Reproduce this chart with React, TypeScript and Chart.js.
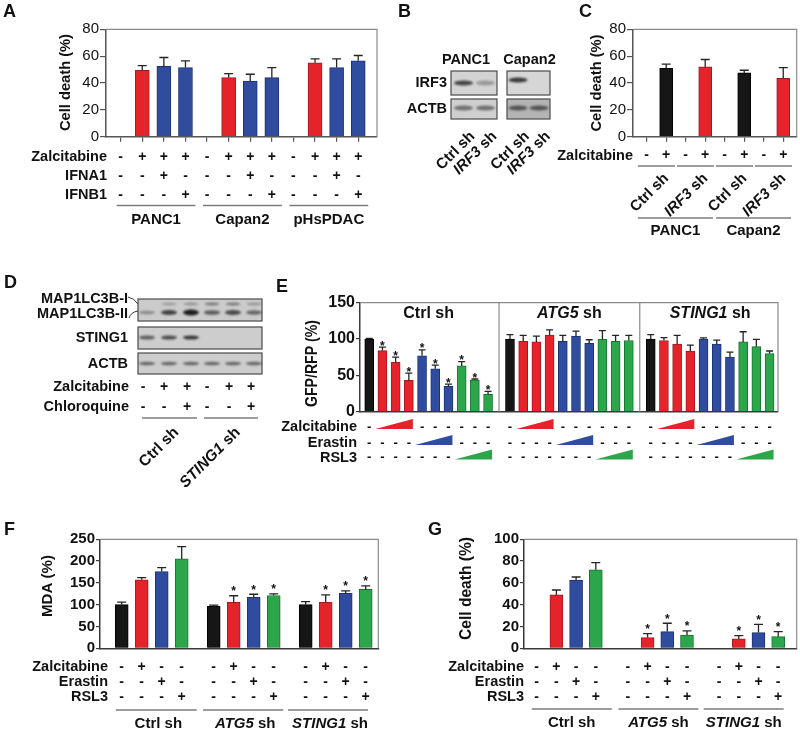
import React, { useEffect, useRef } from "react";
import { Chart, registerables } from "chart.js";

Chart.register(...registerables);

const FONT = '"Liberation Sans", Arial, Helvetica, sans-serif';
const PAGE_W = 800;
const PAGE_H = 731;
const INK = "#111111";
const LINE_GRAY = "#7c7c7c";

const FILL: Record<string, string> = { k: "#161616", r: "#e4232a", b: "#2f4c9e", g: "#2ba64b" };
const EDGE: Record<string, string> = { k: "#000000", r: "#a3191e", b: "#1c3272", g: "#17752f" };

// ================= Panel A =================
const A_SLOTS = [0, 1, 2, 3, 4, 5, 6, 7, 8, 9, 10, 11];
const A_POS = [1, 2, 3, 5, 6, 7, 9, 10, 11];
const A_VAL = [49.5, 52.5, 51.5, 44, 41.5, 44, 55, 51.5, 56.5];
const A_ERR = [3.5, 6.5, 5, 3, 5, 7.5, 3, 6.5, 4];
const A_COL = ["r", "b", "b", "r", "b", "b", "r", "b", "b"];
const A_ROW_LABELS = ["Zalcitabine", "IFNA1", "IFNB1"];
const A_ZAL = ["-", "+", "+", "+", "-", "+", "+", "+", "-", "+", "+", "+"];
const A_IFNA1 = ["-", "-", "+", "-", "-", "-", "+", "-", "-", "-", "+", "-"];
const A_IFNB1 = ["-", "-", "-", "+", "-", "-", "-", "+", "-", "-", "-", "+"];
const A_GROUPS = ["PANC1", "Capan2", "pHsPDAC"];
const A_Y_MAX = 80;
const A_Y_STEP = 20;

// ================= Panel B (blot) =================
const B_CELLS = ["PANC1", "Capan2"];
const B_LANE_LABELS = ["Ctrl sh", "IRF3 sh", "Ctrl sh", "IRF3 sh"];
const B_IRF3 = [0.75, 0.3, 0.8, 0];
const B_ACTB = [0.5, 0.5, 0.6, 0.6];

// ================= Panel C =================
const C_SLOTS = [0, 1, 2, 3, 4, 5, 6, 7];
const C_POS = [1, 3, 5, 7];
const C_VAL = [51, 52, 47.5, 43.5];
const C_ERR = [3, 5.5, 2, 8];
const C_COL = ["k", "r", "k", "r"];
const C_ZAL = ["-", "+", "-", "+", "-", "+", "-", "+"];
const C_PAIRS = ["Ctrl sh", "IRF3 sh", "Ctrl sh", "IRF3 sh"];
const C_GROUPS = ["PANC1", "Capan2"];
const C_Y_MAX = 80;
const C_Y_STEP = 20;

// ================= Panel D (blot) =================
const D_LC3_I = [0, 0.25, 0.3, 0.45, 0.45, 0.3];
const D_LC3_II = [0.35, 0.75, 0.95, 0.6, 0.7, 0.55];
const D_STING1 = [0.6, 0.7, 0.8, 0, 0, 0];
const D_ACTB = [0.55, 0.55, 0.55, 0.55, 0.55, 0.55];
const D_ZAL = ["-", "+", "+", "-", "+", "+"];
const D_CQ = ["-", "-", "+", "-", "-", "+"];
const D_GROUPS = ["Ctrl sh", "STING1 sh"];

// ================= Panel E =================
const E_GROUPS = ["Ctrl sh", "ATG5 sh", "STING1 sh"];
const E_COL_PATTERN = ["k", "r", "r", "r", "b", "b", "b", "g", "g", "g"];
const E_CTRL_VAL = [100, 84, 68, 43, 77, 59, 35, 63, 43.5, 24];
const E_CTRL_ERR = [1, 5, 7, 10, 8, 5, 3, 6, 1.5, 4];
const E_ATG5_VAL = [100, 97, 96, 105.5, 97, 104, 94, 99.5, 97, 98];
const E_ATG5_ERR = [6, 8, 8, 7, 8, 7, 5, 12, 8, 7];
const E_STING1_VAL = [100, 98, 93, 83.5, 100, 93, 75, 96, 89.5, 80];
const E_STING1_ERR = [6, 4, 12, 8, 1.5, 5.5, 7, 14, 10, 3.5];
const E_CTRL_STARS = [false, true, true, true, true, true, true, true, true, true];
const E_ROW_LABELS = ["Zalcitabine", "Erastin", "RSL3"];
const E_ZAL = ["-", "W", "W", "W", "-", "-", "-", "-", "-", "-"];
const E_ERA = ["-", "-", "-", "-", "W", "W", "W", "-", "-", "-"];
const E_RSL = ["-", "-", "-", "-", "-", "-", "-", "W", "W", "W"];
const E_Y_MAX = 150;
const E_Y_STEP = 50;

// ================= Panel F =================
const F_GROUPS = ["Ctrl sh", "ATG5 sh", "STING1 sh"];
const F_COL = ["k", "r", "b", "g", "k", "r", "b", "g", "k", "r", "b", "g"];
const F_VAL = [100, 157, 176, 205, 96, 105.5, 117, 121, 100, 105.5, 126, 135];
const F_ERR = [6, 5, 9, 28, 3, 15, 7, 4, 7, 17, 5.5, 8];
const F_STARS = [false, false, false, false, false, true, true, true, false, true, true, true];
const F_ROW_LABELS = ["Zalcitabine", "Erastin", "RSL3"];
const F_ZAL = ["-", "+", "-", "-"];
const F_ERA = ["-", "-", "+", "-"];
const F_RSL = ["-", "-", "-", "+"];
const F_Y_MAX = 250;
const F_Y_STEP = 50;

// ================= Panel G =================
const G_GROUPS = ["Ctrl sh", "ATG5 sh", "STING1 sh"];
const G_COL = ["r", "b", "g", "r", "b", "g", "r", "b", "g"];
const G_VAL = [49, 62.7, 72, 9.8, 15.3, 12.2, 8.6, 14.4, 10.7];
const G_ERR = [4.5, 2.7, 6.6, 3.7, 7.7, 3.8, 3, 7.6, 4.6];
const G_STARS = [false, false, false, true, true, true, true, true, true];
const G_ROW_LABELS = ["Zalcitabine", "Erastin", "RSL3"];
const G_ZAL = ["-", "+", "-", "-"];
const G_ERA = ["-", "-", "+", "-"];
const G_RSL = ["-", "-", "-", "+"];
const G_Y_MAX = 100;
const G_Y_STEP = 20;

// ---------------- helpers ----------------
type Ctx = CanvasRenderingContext2D;
type Part = [string, boolean];

function setFont(ctx: Ctx, size: number, weight = "bold", italic = false) {
  ctx.font = `${italic ? "italic " : ""}${weight} ${size}px ${FONT}`;
}
function text(ctx: Ctx, s: string, x: number, y: number, size: number, align: CanvasTextAlign = "center", weight = "bold") {
  setFont(ctx, size, weight, false);
  ctx.fillStyle = INK;
  ctx.textAlign = align;
  ctx.textBaseline = "middle";
  ctx.fillText(s, x, y);
}
function shParts(s: string): Part[] {
  const m = s.match(/^(.*) sh$/);
  if (m && m[1] !== "Ctrl") return [[m[1], true], [" sh", false]];
  return [[s, false]];
}
function mixed(ctx: Ctx, parts: Part[], x: number, y: number, size: number, align: "left" | "center" | "right") {
  const widths = parts.map(([s, it]) => {
    setFont(ctx, size, "bold", it);
    return ctx.measureText(s).width;
  });
  const total = widths.reduce((a, b) => a + b, 0);
  let cx = align === "left" ? x : align === "center" ? x - total / 2 : x - total;
  parts.forEach(([s, it], i) => {
    setFont(ctx, size, "bold", it);
    ctx.fillStyle = INK;
    ctx.textAlign = "left";
    ctx.textBaseline = "middle";
    ctx.fillText(s, cx, y);
    cx += widths[i];
  });
}
function rotated(ctx: Ctx, s: string, ax: number, ay: number, size: number) {
  ctx.save();
  ctx.translate(ax, ay);
  ctx.rotate(-Math.PI / 4);
  mixed(ctx, shParts(s), 0, 0, size, "right");
  ctx.restore();
}
function yTitle(ctx: Ctx, s: string, cx: number, cy: number, size: number, len: number) {
  ctx.save();
  ctx.translate(cx, cy);
  ctx.rotate(-Math.PI / 2);
  setFont(ctx, size, "bold");
  const w = ctx.measureText(s).width;
  ctx.scale(len / w, 1);
  ctx.fillStyle = INK;
  ctx.textAlign = "center";
  ctx.textBaseline = "middle";
  ctx.fillText(s, 0, 0);
  ctx.restore();
}
function hline(ctx: Ctx, x0: number, x1: number, y: number, color = LINE_GRAY, w = 1.5) {
  ctx.save();
  ctx.strokeStyle = color;
  ctx.lineWidth = w;
  ctx.beginPath();
  ctx.moveTo(x0, y);
  ctx.lineTo(x1, y);
  ctx.stroke();
  ctx.restore();
}

type Spec = {
  area: [number, number, number, number];
  xMin: number;
  xMax: number;
  slots: number[];
  slotTicks: boolean;
  yMax: number;
  yStep: number;
  tickSize: number;
  tickWeight: string;
  tickPad: number;
  tickLen: number;
  axisColor: string;
  barWidth: number;
  capWidth: number;
  pos: number[];
  val: number[];
  err: number[];
  col: string[];
  star?: boolean[];
  starDy: number;
  extras: (ctx: Ctx, x: (v: number) => number, area: any) => void;
};

function BarPanel({ spec }: { spec: Spec }) {
  const ref = useRef<HTMLCanvasElement>(null);
  useEffect(() => {
    const [l, t, r, b] = spec.area;
    const yW = 70;
    const xH = spec.slotTicks ? 6 : 0;
    const chart = new Chart(ref.current as HTMLCanvasElement, {
      type: "bar",
      data: {
        datasets: [
          {
            data: spec.pos.map((p, i) => ({ x: p, y: spec.val[i] })) as any,
            backgroundColor: spec.col.map((c) => FILL[c]),
            borderColor: spec.col.map((c) => EDGE[c]),
            borderWidth: 1,
            barThickness: spec.barWidth,
          },
        ],
      },
      options: {
        responsive: false,
        animation: false,
        events: [],
        layout: { padding: { left: l - yW, top: t, right: PAGE_W - r, bottom: PAGE_H - b - xH } },
        plugins: { legend: { display: false }, tooltip: { enabled: false }, title: { display: false } },
        scales: {
          x: {
            type: "linear",
            min: spec.xMin,
            max: spec.xMax,
            offset: false,
            afterBuildTicks: (s: any) => {
              s.ticks = spec.slots.map((v) => ({ value: v }));
            },
            afterFit: (s: any) => {
              s.height = xH;
            },
            grid: {
              display: spec.slotTicks,
              offset: false,
              drawOnChartArea: false,
              drawTicks: true,
              tickLength: 5,
              color: spec.axisColor,
              lineWidth: 1.2,
            },
            border: { display: true, color: spec.axisColor, width: 1.5 },
            ticks: { display: false },
          } as any,
          y: {
            min: 0,
            max: spec.yMax,
            afterFit: (s: any) => {
              s.width = yW;
            },
            ticks: {
              stepSize: spec.yStep,
              font: { family: FONT, size: spec.tickSize, weight: spec.tickWeight as any },
              color: INK,
              padding: spec.tickPad,
            },
            grid: { drawOnChartArea: false, drawTicks: true, tickLength: spec.tickLen, color: spec.axisColor, lineWidth: 1.2 },
            border: { color: spec.axisColor, width: 1.5 },
          },
        },
      },
      plugins: [
        {
          id: "decor",
          afterDatasetsDraw(c: any) {
            const ctx: Ctx = c.ctx;
            const xs = c.scales.x;
            const ys = c.scales.y;
            const a = c.chartArea;
            ctx.save();
            ctx.strokeStyle = "#8a8a8a";
            ctx.lineWidth = 1.2;
            ctx.beginPath();
            ctx.moveTo(a.left, a.top);
            ctx.lineTo(a.right, a.top);
            ctx.lineTo(a.right, a.bottom);
            ctx.stroke();
            spec.pos.forEach((p, i) => {
              const x = xs.getPixelForValue(p);
              const y0 = ys.getPixelForValue(spec.val[i]);
              const y1 = ys.getPixelForValue(spec.val[i] + spec.err[i]);
              ctx.strokeStyle = "#252525";
              ctx.lineWidth = 1.3;
              ctx.beginPath();
              ctx.moveTo(x, y0);
              ctx.lineTo(x, y1);
              ctx.moveTo(x - spec.capWidth / 2, y1);
              ctx.lineTo(x + spec.capWidth / 2, y1);
              ctx.stroke();
              if (spec.star && spec.star[i]) {
                setFont(ctx, 12, "bold");
                ctx.fillStyle = INK;
                ctx.textAlign = "center";
                ctx.textBaseline = "alphabetic";
                ctx.fillText("*", x, y1 + spec.starDy);
              }
            });
            spec.extras(ctx, (v: number) => xs.getPixelForValue(v), a);
            ctx.restore();
          },
        },
      ],
    });
    return () => chart.destroy();
  }, [spec]);
  return <canvas ref={ref} width={PAGE_W} height={PAGE_H} style={{ position: "absolute", left: 0, top: 0 }} />;
}

// ---------------- panel specs ----------------
const SPEC_A: Spec = {
  area: [106, 29.3, 377, 136.7],
  xMin: -0.68,
  xMax: 11.87,
  slots: A_SLOTS,
  slotTicks: true,
  yMax: A_Y_MAX,
  yStep: A_Y_STEP,
  tickSize: 15,
  tickWeight: "normal",
  tickPad: 1,
  tickLen: 6,
  axisColor: "#555555",
  barWidth: 14,
  capWidth: 9,
  pos: A_POS,
  val: A_VAL,
  err: A_ERR,
  col: A_COL,
  starDy: 0,
  extras: (ctx, x) => {
    yTitle(ctx, "Cell death (%)", 65.5, 82.5, 15.5, 97);
    const rows = [A_ZAL, A_IFNA1, A_IFNB1];
    const ys = [157, 176, 195];
    rows.forEach((row, r) => {
      text(ctx, A_ROW_LABELS[r], 107, ys[r], 14.5, "right");
      row.forEach((s, i) => text(ctx, s, x(A_SLOTS[i]), ys[r], 14));
    });
    A_GROUPS.forEach((g, k) => {
      const x0 = x(k * 4) - 4;
      const x1 = x(k * 4 + 3) + 10;
      hline(ctx, x0, x1, 205.5);
      text(ctx, g, (x0 + x1) / 2, 219.5, 15);
    });
  },
};

const SPEC_C: Spec = {
  area: [633, 29.3, 796.7, 136.7],
  xMin: -0.7,
  xMax: 7.69,
  slots: C_SLOTS,
  slotTicks: true,
  yMax: C_Y_MAX,
  yStep: C_Y_STEP,
  tickSize: 15,
  tickWeight: "normal",
  tickPad: 1,
  tickLen: 6,
  axisColor: "#555555",
  barWidth: 13,
  capWidth: 9,
  pos: C_POS,
  val: C_VAL,
  err: C_ERR,
  col: C_COL,
  starDy: 0,
  extras: (ctx, x) => {
    yTitle(ctx, "Cell death (%)", 597, 83, 15.5, 97);
    text(ctx, "Zalcitabine", 633, 155.5, 14.5, "right");
    C_ZAL.forEach((s, i) => text(ctx, s, x(C_SLOTS[i]), 155.5, 14));
    C_PAIRS.forEach((p, k) => {
      hline(ctx, x(2 * k - 0.45), x(2 * k + 1.45), 166);
      rotated(ctx, p, x(2 * k + 0.5) + 10, 176, 15);
    });
    C_GROUPS.forEach((g, k) => {
      const x0 = x(4 * k - 0.45);
      const x1 = x(4 * k + 3.4);
      hline(ctx, x0, x1, 218);
      text(ctx, g, (x0 + x1) / 2, 230.5, 15);
    });
  },
};

const E_STEP = 10.66;
const E_POS: number[] = [];
E_GROUPS.forEach((_, g) => E_COL_PATTERN.forEach((_c, i) => E_POS.push(g * E_STEP + i)));
const SPEC_E: Spec = {
  area: [360, 302.7, 778, 411.7],
  xMin: -0.7,
  xMax: 30.96,
  slots: E_POS,
  slotTicks: false,
  yMax: E_Y_MAX,
  yStep: E_Y_STEP,
  tickSize: 16,
  tickWeight: "bold",
  tickPad: 1,
  tickLen: 4,
  axisColor: "#3a3a3a",
  barWidth: 9,
  capWidth: 7,
  pos: E_POS,
  val: [...E_CTRL_VAL, ...E_ATG5_VAL, ...E_STING1_VAL],
  err: [...E_CTRL_ERR, ...E_ATG5_ERR, ...E_STING1_ERR],
  col: [...E_COL_PATTERN, ...E_COL_PATTERN, ...E_COL_PATTERN],
  star: [...E_CTRL_STARS, ...E_CTRL_STARS.map(() => false), ...E_CTRL_STARS.map(() => false)],
  starDy: 2.5,
  extras: (ctx, x, a) => {
    yTitle(ctx, "GFP/RFP (%)", 313, 363.5, 16, 87);
    [E_STEP - 0.83, 2 * E_STEP - 0.83].forEach((v) => {
      ctx.save();
      ctx.strokeStyle = "#8a8a8a";
      ctx.lineWidth = 1.2;
      ctx.beginPath();
      ctx.moveTo(x(v), a.top);
      ctx.lineTo(x(v), a.bottom);
      ctx.stroke();
      ctx.restore();
    });
    E_GROUPS.forEach((g, k) => mixed(ctx, shParts(g), x(k * E_STEP + 4.5), 314, 16, "center"));
    const rows = [E_ZAL, E_ERA, E_RSL];
    const ys = [427, 443, 457.5];
    const wedgeCol = [FILL.r, FILL.b, FILL.g];
    rows.forEach((row, r) => {
      text(ctx, E_ROW_LABELS[r], 357, ys[r], 14.5, "right");
      E_GROUPS.forEach((_g, k) => {
        const base = k * E_STEP;
        const w = row.map((s, i) => (s === "W" ? i : -1)).filter((i) => i >= 0);
        row.forEach((s, i) => {
          if (s === "-") text(ctx, "-", x(base + i), ys[r], 13);
        });
        if (w.length) {
          const x0 = x(base + w[0]) - 7;
          const x1 = x(base + w[w.length - 1]) + 4;
          ctx.save();
          ctx.fillStyle = wedgeCol[r];
          ctx.beginPath();
          ctx.moveTo(x0, ys[r] + 2);
          ctx.lineTo(x1, ys[r] + 2);
          ctx.lineTo(x1, ys[r] - 8);
          ctx.closePath();
          ctx.fill();
          ctx.restore();
        }
      });
    });
  },
};

const F_STEP = 4.6;
const F_POS: number[] = [];
F_GROUPS.forEach((_, g) => [0, 1, 2, 3].forEach((i) => F_POS.push(g * F_STEP + i)));
const F_LINES = [[-0.29, 3.75], [4.07, 8.08], [8.32, 12.31]];
const SPEC_F: Spec = {
  area: [100, 539.3, 378.3, 648.3],
  xMin: -1.085,
  xMax: 12.83,
  slots: F_POS,
  slotTicks: false,
  yMax: F_Y_MAX,
  yStep: F_Y_STEP,
  tickSize: 15,
  tickWeight: "bold",
  tickPad: 1,
  tickLen: 4,
  axisColor: "#3a3a3a",
  barWidth: 13,
  capWidth: 9,
  pos: F_POS,
  val: F_VAL,
  err: F_ERR,
  col: F_COL,
  star: F_STARS,
  starDy: -0.5,
  extras: (ctx, x) => {
    yTitle(ctx, "MDA (%)", 48, 586, 15, 62);
    const rows = [F_ZAL, F_ERA, F_RSL];
    const ys = [666.7, 681.7, 696.7];
    rows.forEach((row, r) => {
      text(ctx, F_ROW_LABELS[r], 108, ys[r], 14.5, "right");
      F_GROUPS.forEach((_g, k) => row.forEach((s, i) => text(ctx, s, x(k * F_STEP + i), ys[r], 14)));
    });
    F_GROUPS.forEach((g, k) => {
      const x0 = x(F_LINES[k][0]);
      const x1 = x(F_LINES[k][1]);
      hline(ctx, x0, x1, 710);
      mixed(ctx, shParts(g), (x0 + x1) / 2 + 2, 723.5, 15, "center");
    });
  },
};

const G_STEP = 4.63;
const G_SLOT_POS: number[] = [];
const G_POS: number[] = [];
G_GROUPS.forEach((_, g) =>
  [0, 1, 2, 3].forEach((i) => {
    G_SLOT_POS.push(g * G_STEP + i);
    if (i > 0) G_POS.push(g * G_STEP + i);
  })
);
const G_LINES = [[-0.25, 3.81], [4.15, 8.21], [8.48, 12.54]];
const SPEC_G: Spec = {
  area: [524, 539.3, 796.7, 648.3],
  xMin: -0.645,
  xMax: 13.2,
  slots: G_SLOT_POS,
  slotTicks: false,
  yMax: G_Y_MAX,
  yStep: G_Y_STEP,
  tickSize: 15,
  tickWeight: "bold",
  tickPad: 1,
  tickLen: 4,
  axisColor: "#3a3a3a",
  barWidth: 13,
  capWidth: 9,
  pos: G_POS,
  val: G_VAL,
  err: G_ERR,
  col: G_COL,
  star: G_STARS,
  starDy: -0.5,
  extras: (ctx, x) => {
    yTitle(ctx, "Cell death (%)", 466.7, 588.5, 16, 103);
    const rows = [G_ZAL, G_ERA, G_RSL];
    const ys = [667.3, 682.3, 697.3];
    rows.forEach((row, r) => {
      text(ctx, G_ROW_LABELS[r], 524, ys[r], 14.5, "right");
      G_GROUPS.forEach((_g, k) => row.forEach((s, i) => text(ctx, s, x(k * G_STEP + i), ys[r], 14)));
    });
    G_GROUPS.forEach((g, k) => {
      const x0 = x(G_LINES[k][0]);
      const x1 = x(G_LINES[k][1]);
      hline(ctx, x0, x1, 709);
      mixed(ctx, shParts(g), (x0 + x1) / 2, 722.5, 15, "center");
    });
  },
};

// ---------------- blots and panel letters ----------------
function band(ctx: Ctx, cx: number, cy: number, w: number, h: number, a: number) {
  if (a <= 0) return;
  ctx.save();
  ctx.filter = "blur(1px)";
  ctx.fillStyle = `rgba(20,20,20,${a})`;
  ctx.beginPath();
  ctx.ellipse(cx, cy, w / 2, h / 2, 0, 0, Math.PI * 2);
  ctx.fill();
  ctx.restore();
}
function box(ctx: Ctx, x0: number, y0: number, x1: number, y1: number, fill: string) {
  ctx.save();
  ctx.fillStyle = fill;
  ctx.fillRect(x0, y0, x1 - x0, y1 - y0);
  ctx.strokeStyle = "#4a4a4a";
  ctx.lineWidth = 1.2;
  ctx.strokeRect(x0, y0, x1 - x0, y1 - y0);
  ctx.restore();
}

function drawStatic(ctx: Ctx) {
  ctx.clearRect(0, 0, PAGE_W, PAGE_H);
  // panel letters
  const letters: [string, number, number][] = [
    ["A", 3, 12],
    ["B", 398, 12],
    ["C", 579, 12],
    ["D", 4, 283],
    ["E", 276, 287],
    ["F", 4, 530],
    ["G", 428, 530],
  ];
  letters.forEach(([s, x, y]) => text(ctx, s, x, y, 18, "left"));

  // ---- Panel B ----
  text(ctx, B_CELLS[0], 466, 60, 14.5);
  text(ctx, B_CELLS[1], 529.5, 60, 14.5);
  text(ctx, "IRF3", 447, 83, 14.5, "right");
  text(ctx, "ACTB", 447, 109, 14.5, "right");
  box(ctx, 451, 71, 497, 95, "#d3d3d3");
  box(ctx, 507, 71, 550, 95, "#d6d6d6");
  box(ctx, 451, 99, 497, 119, "#cfcfcf");
  box(ctx, 507, 99, 550, 119, "#b4b4b4");
  const bLanes = [463.5, 485.5, 518, 539];
  const bIrfY = [83, 83, 80, 80];
  bLanes.forEach((lx, i) => {
    band(ctx, lx, bIrfY[i], 19, 5, B_IRF3[i]);
    band(ctx, lx, 108, 19, 5, B_ACTB[i]);
    rotated(ctx, B_LANE_LABELS[i], lx + 9, 134, 15);
  });

  // ---- Panel D ----
  text(ctx, "MAP1LC3B-I", 128, 299, 14.5, "right");
  text(ctx, "MAP1LC3B-II", 128, 314, 14.5, "right");
  text(ctx, "STING1", 128, 338, 14.5, "right");
  text(ctx, "ACTB", 128, 364, 14.5, "right");
  ctx.save();
  ctx.strokeStyle = "#333";
  ctx.lineWidth = 1;
  ctx.beginPath();
  ctx.moveTo(128, 297);
  ctx.quadraticCurveTo(134, 298, 138, 304);
  ctx.moveTo(129, 318);
  ctx.quadraticCurveTo(131, 312, 138, 311);
  ctx.stroke();
  ctx.restore();
  box(ctx, 138, 299, 262, 321, "#cbcbcb");
  box(ctx, 138, 327, 262, 349, "#cdcdcd");
  box(ctx, 138, 353, 262, 374, "#cdcdcd");
  const dLanes = [147, 169, 191, 212, 233, 254];
  dLanes.forEach((lx, i) => {
    band(ctx, lx, 304, 15, 3, D_LC3_I[i]);
    band(ctx, lx, 312.5, 16, 2.5 + 3.5 * D_LC3_II[i], D_LC3_II[i]);
    band(ctx, lx, 337.5, 16, 4, D_STING1[i]);
    band(ctx, lx, 363.5, 16, 3.5, D_ACTB[i]);
  });
  const dSym = [143, 164, 187, 207, 229, 251];
  text(ctx, "Zalcitabine", 129, 387, 14.5, "right");
  text(ctx, "Chloroquine", 129, 407, 14.5, "right");
  dSym.forEach((sx, i) => {
    text(ctx, D_ZAL[i], sx, 387, 14);
    text(ctx, D_CQ[i], sx, 407, 14);
  });
  hline(ctx, 142, 197, 418);
  hline(ctx, 204, 258, 418);
  rotated(ctx, D_GROUPS[0], 176.5, 430, 15.5);
  rotated(ctx, D_GROUPS[1], 238, 430, 15.5);
}

function StaticLayer() {
  const ref = useRef<HTMLCanvasElement>(null);
  useEffect(() => {
    const ctx = (ref.current as HTMLCanvasElement).getContext("2d");
    if (ctx) drawStatic(ctx);
  }, []);
  return <canvas ref={ref} width={PAGE_W} height={PAGE_H} style={{ position: "absolute", left: 0, top: 0 }} />;
}

export default function App() {
  return (
    <div
      style={{
        position: "absolute",
        left: 0,
        top: 0,
        width: PAGE_W,
        height: PAGE_H,
        background: "#ffffff",
        overflow: "hidden",
      }}
    >
      <StaticLayer />
      <BarPanel spec={SPEC_A} />
      <BarPanel spec={SPEC_C} />
      <BarPanel spec={SPEC_E} />
      <BarPanel spec={SPEC_F} />
      <BarPanel spec={SPEC_G} />
    </div>
  );
}
